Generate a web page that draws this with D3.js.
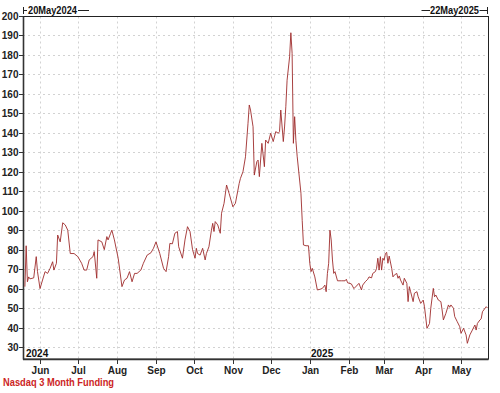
<!DOCTYPE html>
<html><head><meta charset="utf-8">
<script src="https://cdn.jsdelivr.net/npm/d3@7"></script>
<style>body{margin:0;background:#fff}svg{display:block}text{font-family:"Liberation Sans",Arial,sans-serif;font-weight:bold}</style>
</head><body><svg id="c" width="500" height="393"></svg>
<script>
const dates = ["2024-05-20","2024-05-21","2024-05-22","2024-05-23","2024-05-24","2024-05-27","2024-05-29","2024-05-30","2024-06-01","2024-06-03","2024-06-05","2024-06-07","2024-06-09","2024-06-11","2024-06-12","2024-06-14","2024-06-15","2024-06-17","2024-06-19","2024-06-21","2024-06-23","2024-06-25","2024-06-28","2024-07-01","2024-07-04","2024-07-06","2024-07-08","2024-07-10","2024-07-13","2024-07-14","2024-07-16","2024-07-17","2024-07-20","2024-07-22","2024-07-24","2024-07-25","2024-07-27","2024-07-28","2024-07-30","2024-08-02","2024-08-05","2024-08-07","2024-08-09","2024-08-11","2024-08-13","2024-08-15","2024-08-17","2024-08-20","2024-08-22","2024-08-25","2024-08-28","2024-08-30","2024-09-01","2024-09-04","2024-09-07","2024-09-09","2024-09-11","2024-09-12","2024-09-14","2024-09-16","2024-09-18","2024-09-19","2024-09-22","2024-09-24","2024-09-26","2024-09-28","2024-09-30","2024-10-02","2024-10-03","2024-10-04","2024-10-06","2024-10-08","2024-10-10","2024-10-11","2024-10-13","2024-10-15","2024-10-16","2024-10-17","2024-10-18","2024-10-20","2024-10-22","2024-10-23","2024-10-25","2024-10-27","2024-10-29","2024-11-01","2024-11-03","2024-11-05","2024-11-06","2024-11-07","2024-11-09","2024-11-11","2024-11-13","2024-11-14","2024-11-15","2024-11-17","2024-11-18","2024-11-20","2024-11-21","2024-11-22","2024-11-24","2024-11-26","2024-11-27","2024-11-29","2024-12-01","2024-12-03","2024-12-05","2024-12-07","2024-12-08","2024-12-09","2024-12-11","2024-12-12","2024-12-13","2024-12-14","2024-12-16","2024-12-17","2024-12-18","2024-12-19","2024-12-20","2024-12-21","2024-12-22","2024-12-25","2024-12-26","2024-12-27","2024-12-29","2024-12-31","2025-01-01","2025-01-02","2025-01-03","2025-01-05","2025-01-07","2025-01-09","2025-01-11","2025-01-13","2025-01-14","2025-01-15","2025-01-16","2025-01-17","2025-01-18","2025-01-19","2025-01-20","2025-01-21","2025-01-23","2025-01-26","2025-01-29","2025-01-30","2025-01-31","2025-02-03","2025-02-05","2025-02-07","2025-02-09","2025-02-11","2025-02-12","2025-02-14","2025-02-16","2025-02-17","2025-02-19","2025-02-20","2025-02-22","2025-02-23","2025-02-24","2025-02-25","2025-02-26","2025-02-27","2025-02-28","2025-03-01","2025-03-02","2025-03-03","2025-03-04","2025-03-05","2025-03-07","2025-03-08","2025-03-09","2025-03-11","2025-03-12","2025-03-13","2025-03-14","2025-03-16","2025-03-17","2025-03-19","2025-03-20","2025-03-21","2025-03-22","2025-03-24","2025-03-25","2025-03-27","2025-03-28","2025-03-30","2025-04-01","2025-04-02","2025-04-04","2025-04-06","2025-04-07","2025-04-09","2025-04-10","2025-04-11","2025-04-13","2025-04-15","2025-04-16","2025-04-17","2025-04-19","2025-04-21","2025-04-22","2025-04-23","2025-04-25","2025-04-26","2025-04-28","2025-04-30","2025-05-01","2025-05-03","2025-05-05","2025-05-06","2025-05-08","2025-05-10","2025-05-12","2025-05-13","2025-05-14","2025-05-16","2025-05-17","2025-05-18","2025-05-19","2025-05-21","2025-05-22"];
const values = [61,82,63.5,66,65,65.5,76.4,68.7,60,64.4,68.7,67.8,70.4,73.8,69.5,73,87.5,84,93.8,92.7,90,78,78,76.4,73,69.5,69.5,74.7,76.4,79,65.3,85,84,80,86.7,85,88.4,90,85,75.6,61,64.4,65.3,68.7,63.5,67.8,67.8,69.5,73,77.2,78.4,80.7,84,78,70.4,68.7,76.4,83.2,83,88.4,89.3,81.5,75.6,85,91.8,89.3,80,75.6,80.7,78,77.2,80.7,74.7,78,81.5,90,93.5,89.3,94.4,92.7,88.4,98.7,103.8,113.2,108.9,102,103.8,110.6,114,116.6,120,127.7,144.9,154.3,151.7,143.1,118.3,125.2,126,117.5,134.6,122.6,136.3,134.6,139.8,135.5,140.6,139.8,140.6,151.7,135.5,143,153.4,167,179,191.4,180.8,134.6,148.3,136,128,109,95,82.4,82,82,73,68.7,70.4,66,59.3,59.6,60.1,61.8,58.4,67.8,73,90,85,74.7,67.8,68.7,64,64,64,64.8,63,62.4,60,61.3,62.7,59.3,61.8,63.5,64.8,66,65.5,67.8,68.7,70.4,75.6,69.5,76.4,69.5,75.6,74.5,78,78.6,73,76.7,70.4,66,66.9,67.8,65.3,66.5,64.4,61.8,65.3,62.7,53.3,61,58.4,53.3,57.6,58.4,55.8,52.4,54.1,50.7,39.6,42.1,49.9,60.1,55.8,56.7,54.1,53.3,49,43.9,47.3,51.6,50.4,51.6,49.9,45.6,43,40.4,37,39.6,36.2,31.9,36.2,38.7,41.3,38.7,42.1,43.9,44.5,48.1,49,50.7,50];
const yTicks = [30,40,50,60,70,80,90,100,110,120,130,140,150,160,170,180,190,200];
const monthTicks = ["2024-06-01","2024-07-01","2024-08-01","2024-09-01","2024-10-01","2024-11-01","2024-12-01","2025-01-01","2025-02-01","2025-03-01","2025-04-01","2025-05-01"];
const yearLabels = [{date:"2024-05-20",label:"2024"},{date:"2025-01-01",label:"2025"}];
const startLabel = "20May2024", endLabel = "22May2025";
const seriesName = "Nasdaq 3 Month Funding";

const parse = d3.utcParse("%Y-%m-%d");
const data = dates.map((d,i)=>({date:parse(d), value:values[i]}));
const svg = d3.select("#c");
const L=23, R=488, T=16.5, B=359;
const x = d3.scaleUtc().domain([parse("2024-05-20"), parse("2025-05-22")]).range([24.9, 487.5]);
const y = d3.scaleLinear().domain([30,200]).range([347,16]);

const grid = svg.append("g").attr("stroke","#d2d2d2").attr("stroke-dasharray","2,3").attr("stroke-width",1);
yTicks.filter(v=>v<200).forEach(v=>{
  const yy = Math.round(y(v))+0.5;
  grid.append("line").attr("x1",L).attr("x2",R).attr("y1",yy).attr("y2",yy);
});
monthTicks.forEach(m=>{
  const xx = Math.round(x(parse(m)))+0.5;
  grid.append("line").attr("x1",xx).attr("x2",xx).attr("y1",T).attr("y2",B);
});

// box
svg.append("rect").attr("x",L+0.5).attr("y",T).attr("width",R-L).attr("height",B-T)
  .attr("fill","none").attr("stroke","#222").attr("stroke-width",1);
svg.append("line").attr("x1",L+0.5).attr("x2",L+0.5).attr("y1",T).attr("y2",B+0.5).attr("stroke","#333").attr("stroke-width",1.6);
svg.append("line").attr("x1",L).attr("x2",R+0.5).attr("y1",B+0.5).attr("y2",B+0.5).attr("stroke","#333").attr("stroke-width",1.6);

// y axis
const yAxis = svg.append("g");
yTicks.forEach(v=>{
  const yy = Math.round(y(v))+0.5;
  yAxis.append("line").attr("x1",19).attr("x2",L).attr("y1",yy).attr("y2",yy).attr("stroke","#333");
  yAxis.append("text").attr("x",18.5).attr("y",yy+3.5).attr("text-anchor","end")
    .attr("font-size","10px").attr("fill","#222").text(v);
});
// x axis
const xAxis = svg.append("g");
monthTicks.forEach(m=>{
  const xx = Math.round(x(parse(m)))+0.5;
  xAxis.append("line").attr("x1",xx).attr("x2",xx).attr("y1",B).attr("y2",B+5).attr("stroke","#333");
  xAxis.append("text").attr("x",xx).attr("y",374).attr("text-anchor","middle")
    .attr("font-size","10px").attr("fill","#222").text(d3.utcFormat("%b")(parse(m)));
});
yearLabels.forEach(yl=>{
  svg.append("text").attr("x",Math.max(25,Math.round(x(parse(yl.date)))+1)).attr("y",357)
    .attr("font-size","10px").attr("fill","#111").text(yl.label);
});

// header
const hdr = svg.append("g").attr("stroke","#222").attr("stroke-width",1);
hdr.append("line").attr("x1",23.5).attr("x2",23.5).attr("y1",7).attr("y2",14);
hdr.append("line").attr("x1",23.5).attr("x2",27).attr("y1",10.5).attr("y2",10.5);
hdr.append("line").attr("x1",78).attr("x2",89).attr("y1",10.5).attr("y2",10.5);
hdr.append("line").attr("x1",421.5).attr("x2",430).attr("y1",10.5).attr("y2",10.5);
hdr.append("line").attr("x1",479.5).attr("x2",487.5).attr("y1",10.5).attr("y2",10.5);
hdr.append("line").attr("x1",487.5).attr("x2",487.5).attr("y1",7).attr("y2",14);
svg.append("text").attr("x",28).attr("y",14).attr("font-size","10px").attr("fill","#111")
  .attr("textLength",49).attr("lengthAdjust","spacingAndGlyphs").text(startLabel);
svg.append("text").attr("x",430).attr("y",14).attr("font-size","10px").attr("fill","#111")
  .attr("textLength",49).attr("lengthAdjust","spacingAndGlyphs").text(endLabel);

// series
const line = d3.line().x(d=>x(d.date)).y(d=>y(d.value));
svg.append("path").datum(data).attr("d",line).attr("fill","none")
  .attr("stroke","#9e2b2b").attr("stroke-width",0.9).attr("stroke-linejoin","round");

// legend
svg.append("text").attr("x",3).attr("y",385.5).attr("font-size","10px").attr("fill","#cc2424")
  .attr("textLength",111).attr("lengthAdjust","spacingAndGlyphs").text(seriesName);
</script></body></html>
